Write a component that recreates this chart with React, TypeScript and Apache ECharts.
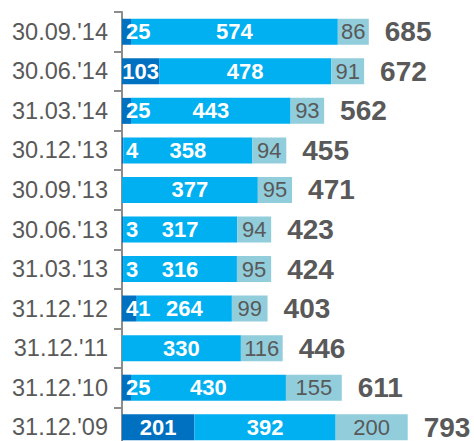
import React, { useEffect, useRef } from "react";
import * as echarts from "echarts";

const categories = [
  "30.09.'14",
  "30.06.'14",
  "31.03.'14",
  "30.12.'13",
  "30.09.'13",
  "30.06.'13",
  "31.03.'13",
  "31.12.'12",
  "31.12.'11",
  "31.12.'10",
  "31.12.'09",
];
const darkValues = [25, 103, 25, 4, 0, 3, 3, 41, 0, 25, 201];
const mainValues = [574, 478, 443, 358, 377, 317, 316, 264, 330, 430, 392];
const lightValues = [86, 91, 93, 94, 95, 94, 95, 99, 116, 155, 200];
const totals = [685, 672, 562, 455, 471, 423, 424, 403, 446, 611, 793];

const FONT = "Arial, 'Liberation Sans', sans-serif";
const GRAY = "#595959";

export default function App() {
  const ref = useRef<HTMLDivElement>(null);
  useEffect(() => {
    document.body.style.margin = "0";
    document.body.style.overflow = "hidden";
    const chart = echarts.init(ref.current!, null, { renderer: "svg" });
    const darkData = darkValues.map((v) => {
      const wide = v >= 60;
      return {
        value: v,
        label: wide
          ? { position: "inside" }
          : { position: "insideLeft", distance: 4 },
      };
    });
    chart.setOption({
      animation: false,
      grid: { left: 122, top: 12, right: 0, bottom: 0 },
      xAxis: {
        type: "value",
        min: 0,
        max: 977,
        show: false,
        splitLine: { show: false },
      },
      yAxis: {
        type: "category",
        data: categories,
        inverse: true,
        axisLine: { show: true, lineStyle: { color: "#8c8c8c", width: 2 } },
        axisTick: { show: true, length: 8, lineStyle: { color: "#8c8c8c", width: 2 } },
        axisLabel: { color: GRAY, fontSize: 23.5, fontFamily: FONT, margin: 14 },
      },
      series: [
        {
          type: "bar",
          stack: "a",
          barWidth: 26,
          data: darkData,
          itemStyle: { color: "#0070C0" },
          label: {
            show: true,
            color: "#fff",
            fontWeight: "bold",
            fontSize: 22,
            fontFamily: FONT,
            formatter: (p: any) => (p.value ? String(p.value) : ""),
          },
        },
        {
          type: "bar",
          stack: "a",
          barWidth: 26,
          data: mainValues,
          itemStyle: { color: "#00B0F0" },
          label: {
            show: true,
            position: "inside",
            color: "#fff",
            fontWeight: "bold",
            fontSize: 22,
            fontFamily: FONT,
          },
        },
        {
          type: "bar",
          stack: "a",
          barWidth: 26,
          data: lightValues,
          itemStyle: { color: "#92CDDC" },
          label: {
            show: true,
            position: "inside",
            color: GRAY,
            fontSize: 22,
            fontFamily: FONT,
          },
        },
        {
          type: "bar",
          stack: "a",
          barWidth: 26,
          data: totals.map(() => 0),
          itemStyle: { color: "transparent" },
          label: {
            show: true,
            position: "right",
            distance: 16,
            color: GRAY,
            fontWeight: "bold",
            fontSize: 28,
            fontFamily: FONT,
            formatter: (p: any) => String(totals[p.dataIndex]),
          },
        },
      ],
    });
    return () => chart.dispose();
  }, []);
  return <div ref={ref} style={{ width: 474, height: 447 }} />;
}
